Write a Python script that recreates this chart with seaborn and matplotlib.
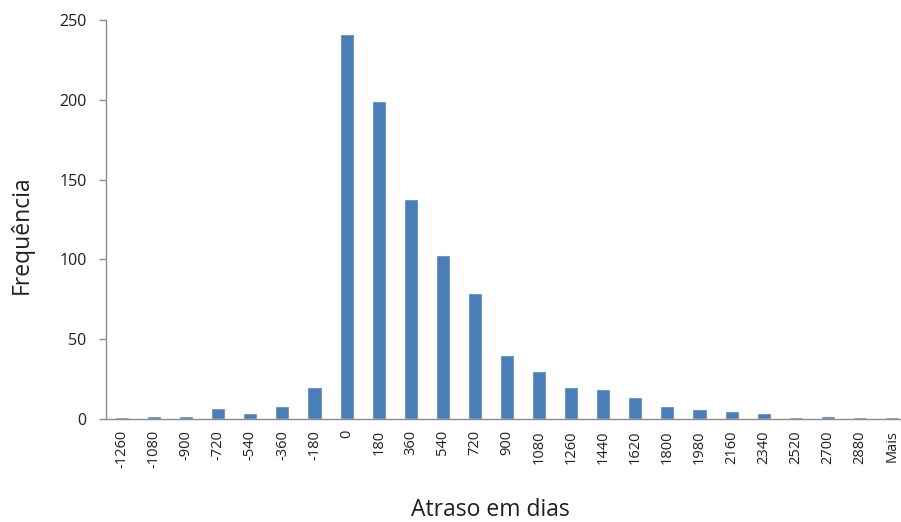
import matplotlib
matplotlib.use("Agg")
import matplotlib.pyplot as plt
import seaborn as sns
import pandas as pd
import numpy as np

# Histogram bins (days of delay) and their frequencies
bins = ["-1260", "-1080", "-900", "-720", "-540", "-360", "-180", "0", "180",
        "360", "540", "720", "900", "1080", "1260", "1440", "1620", "1800",
        "1980", "2160", "2340", "2520", "2700", "2880", "Mais"]
freq = [1, 2, 2, 7, 4, 8, 20, 241, 199, 138, 103, 79, 40, 30, 20, 19, 14, 8,
        6, 5, 4, 1, 2, 1, 1]

df = pd.DataFrame({"bin": bins, "freq": freq})

sns.set_style("white")
plt.rcParams["font.family"] = ["Open Sans", "DejaVu Sans"]

W, H = 901, 522
fig = plt.figure(figsize=(W / 100, H / 100), dpi=100)
left, right, bottom, top = 106, 908, 419, 20
ax = fig.add_axes([left / W, (H - bottom) / H, (right - left) / W, (bottom - top) / H])

bar_color = "#4A7EBB"
sns.barplot(data=df, x="bin", y="freq", order=bins, color=bar_color,
            saturation=1, width=0.44, ax=ax)

ax.set_ylim(0, 250)
ax.set_xlim(-0.5, len(bins) - 0.5)
ax.set_yticks(np.arange(0, 251, 50))

axis_color = "#8C8C8C"
text_color = "#1F1F1F"
for side in ("top", "right"):
    ax.spines[side].set_visible(False)
for side in ("left", "bottom"):
    ax.spines[side].set_color(axis_color)
    ax.spines[side].set_linewidth(1.0)

# category labels without tick marks; short marks between categories
ax.tick_params(axis="x", which="major", length=0, pad=8, labelsize=10.5,
               labelcolor=text_color, labelrotation=90)
ax.set_xticks(np.arange(-0.5, len(bins), 1), minor=True)
ax.tick_params(axis="x", which="minor", length=5, color=axis_color, width=1)
for lbl in ax.get_xticklabels():
    lbl.set_verticalalignment("top")
    lbl.set_horizontalalignment("center")

ax.tick_params(axis="y", which="major", length=5, color=axis_color, width=1,
               pad=9, labelsize=11.5, labelcolor=text_color, left=True)

ax.set_xlabel("")
ax.set_ylabel("")
fig.text(490 / W, 1 - 510 / H, "Atraso em dias", ha="center", va="center",
         fontsize=16.5, color=text_color)
fig.text(22 / W, 1 - 235 / H, "Frequência", ha="center", va="center",
         rotation=90, fontsize=16.5, color=text_color)

fig.savefig("out.png", dpi=100)
